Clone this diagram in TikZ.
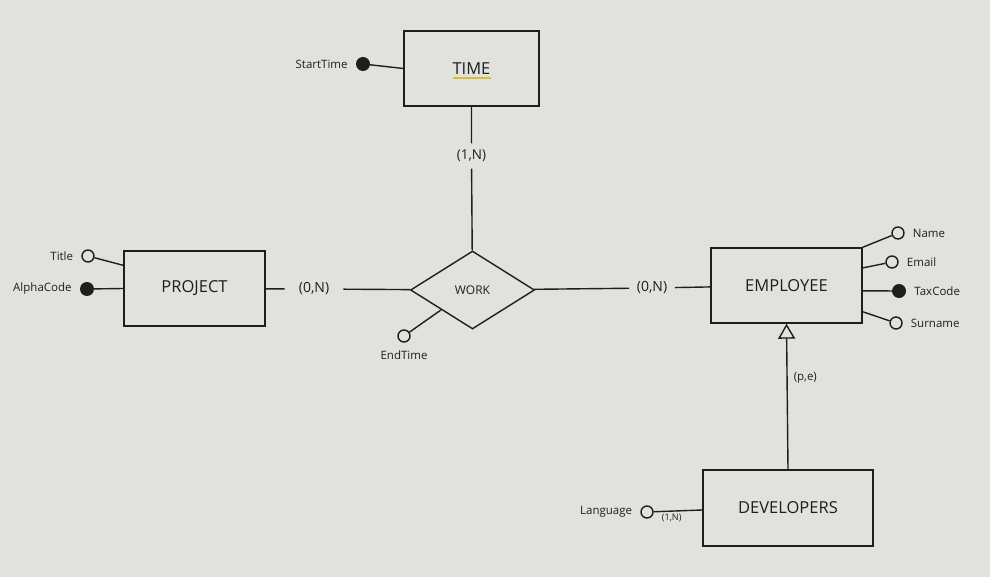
\documentclass[tikz,border=0pt]{standalone}
\usepackage{fontspec}
\setmainfont{Open Sans}
\usetikzlibrary{shapes.geometric,arrows.meta}
\definecolor{bgcol}{RGB}{225,226,221}
\definecolor{ink}{RGB}{30,30,30}
\definecolor{keyline}{RGB}{214,190,60}

\begin{document}
\begin{tikzpicture}[x=1pt,y=-1pt,label distance=6pt,
  every node/.style={text=ink},
  entity/.style={draw=ink,line width=1.4pt,minimum height=75pt,inner sep=0pt,font=\fontsize{16.5}{18}\selectfont},
  rel/.style={diamond,draw=ink,line width=1.4pt,minimum width=124pt,minimum height=78pt,inner sep=0pt,font=\fontsize{12}{14}\selectfont},
  attr/.style={circle,draw=ink,line width=1.4pt,fill=bgcol,minimum size=12pt,inner sep=0pt},
  keyattr/.style={circle,fill=ink,minimum size=14pt,inner sep=0pt},
  lbl/.style={font=\fontsize{11.5}{13}\selectfont,inner sep=2pt},
  card/.style={font=\fontsize{14}{16}\selectfont,inner ysep=0pt},
  conn/.style={draw=ink,line width=1.4pt}]
\fill[bgcol] (0,0) rectangle (990,577);
\useasboundingbox (0,0) rectangle (990,577);
% entities and relationship
\node[entity,minimum width=135pt] (time) at (471.5,68.5) {TIME};
\node[entity,minimum width=141pt] (proj) at (194.5,288.5) {PROJECT};
\node[entity,minimum width=151pt] (emp) at (786.5,285.5) {EMPLOYEE};
\node[entity,minimum width=170pt,minimum height=76pt] (dev) at (788,508) {DEVELOPERS};
\node[rel] (work) at (472.5,290) {WORK};
\draw[keyline,line width=2pt] ([shift={(-19,10)}]time.center) -- ([shift={(19,10)}]time.center);
% attributes
\node[keyattr,label={[lbl]left:StartTime}] (start) at (363,64) {};
\node[attr,label={[lbl]left:Title}] (title) at (88,256) {};
\node[keyattr,label={[lbl]left:AlphaCode}] (alpha) at (87,289) {};
\node[attr,label={[lbl]below:EndTime}] (endt) at (404,336) {};
\node[attr,label={[lbl]right:Name}] (name) at (898,233) {};
\node[attr,label={[lbl]right:Email}] (email) at (892,262) {};
\node[keyattr,label={[lbl]right:TaxCode}] (tax) at (899,291) {};
\node[attr,label={[lbl]right:Surname}] (sur) at (896,323) {};
\node[attr,label={[lbl]left:Language}] (lang) at (647,512) {};
\draw[conn] (start) -- (time.west);
\draw[conn] (title) -- (proj.162);
\draw[conn] (alpha) -- (proj.west);
\draw[conn] (endt) -- (work.south west);
\draw[conn] (name) -- (emp.north east);
\draw[conn] (email) -- (emp.13);
\draw[conn] (tax) -- (emp.-4);
\draw[conn] (sur) -- (emp.-19);
\draw[conn] (lang) -- node[below,pos=0.37,inner sep=2pt,font=\fontsize{9}{10}\selectfont] (lcard) {(1,N)} ([yshift=-2pt]dev.west);
% cardinalities
\node[card,inner xsep=14pt] (c1) at (314,289) {(0,N)};
\node[card,inner xsep=7.5pt] (c2) at (652,288) {(0,N)};
\node[card,inner ysep=6.5pt,font=\fontsize{13.5}{15}\selectfont] (c3) at (471.5,156) {(1,N)};
\draw[conn] (proj) -- (c1) -- (work);
\draw[conn] (work) -- (c2) -- (emp);
\draw[conn] (time) -- (c3) -- (work);
% generalization
\draw[conn,-{Triangle[open,length=15pt,width=17pt]}] (dev.north) -- node[pos=0.63,right,inner sep=6pt,font=\fontsize{11.5}{13}\selectfont] (gen) {(p,e)} (emp.south);
\end{tikzpicture}
\end{document}
